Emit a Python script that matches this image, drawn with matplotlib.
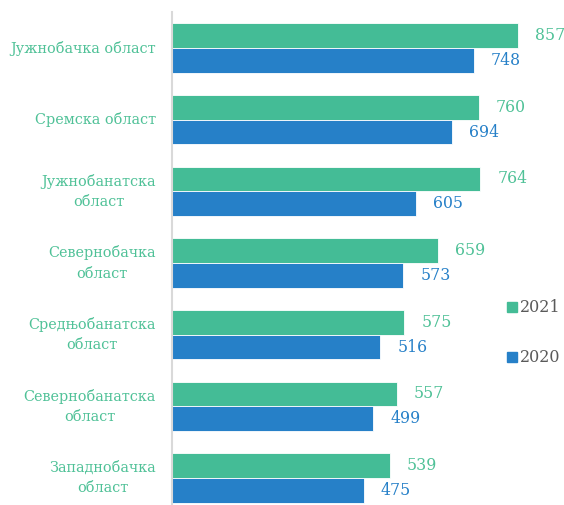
import matplotlib
matplotlib.use("Agg")
import matplotlib.pyplot as plt
from matplotlib.patches import Rectangle

categories = ["Јужнобачка област", "Сремска област", "Јужнобанатска\nобласт",
              "Севернобачка\nобласт", "Средњобанатска\nобласт",
              "Севернобанатска\nобласт", "Западнобачка\nобласт"]
values_2021 = [857, 760, 764, 659, 575, 557, 539]
values_2020 = [748, 694, 605, 573, 516, 499, 475]
series_names = ["2021", "2020"]

green = "#44BC96"
blue = "#2680C8"
label_green = "#4FC197"
gray = "#5A5A5A"

plt.rcParams['font.family'] = ['DejaVu Serif']

fig = plt.figure(figsize=(5.64, 5.05), dpi=100)
W, H = 564, 505
left, right = 172, 564
top, bottom = 12, 505
ax = fig.add_axes([left / W, 1 - bottom / H, (right - left) / W, (bottom - top) / H])

pxu = 346 / 857.0
ax.set_xlim(0, (right - left) / pxu)
pitch = (478 - 48) / 6.0
ax.set_ylim(6 + (505 - 478) / pitch, 0 - (48 - 12) / pitch)

bh = 0.345
ys = list(range(len(categories)))
ax.barh([y - bh / 2 for y in ys], values_2021, height=bh, color=green, edgecolor="white", linewidth=0.6)
ax.barh([y + bh / 2 for y in ys], values_2020, height=bh, color=blue, edgecolor="white", linewidth=0.6)

off = 17 / pxu
for y, v in zip(ys, values_2021):
    ax.text(v + off, y - bh / 2, str(v), va="center", ha="left", color=label_green, fontsize=11.3)
for y, v in zip(ys, values_2020):
    ax.text(v + off, y + bh / 2, str(v), va="center", ha="left", color=blue, fontsize=11.3)

for y, c in zip(ys, categories):
    ax.text(-16 / pxu, y, c, va="center", ha="right", multialignment="center",
            color=label_green, fontsize=10.4, linespacing=1.55)

for s in ["top", "right", "bottom"]:
    ax.spines[s].set_visible(False)
ax.spines["left"].set_color("#D9D9D9")
ax.spines["left"].set_linewidth(1.5)
ax.set_xticks([])
ax.set_yticks([])

# legend
for name, col, yc in zip(series_names, [green, blue], [307, 357]):
    fig.patches.append(Rectangle((507 / W, 1 - (yc + 5) / H), 10 / W, 10 / H,
                                 transform=fig.transFigure, color=col))
    fig.text(520 / W, 1 - yc / H, name, va="center", ha="left", color=gray, fontsize=11.5)

fig.savefig("out.png", dpi=100)
